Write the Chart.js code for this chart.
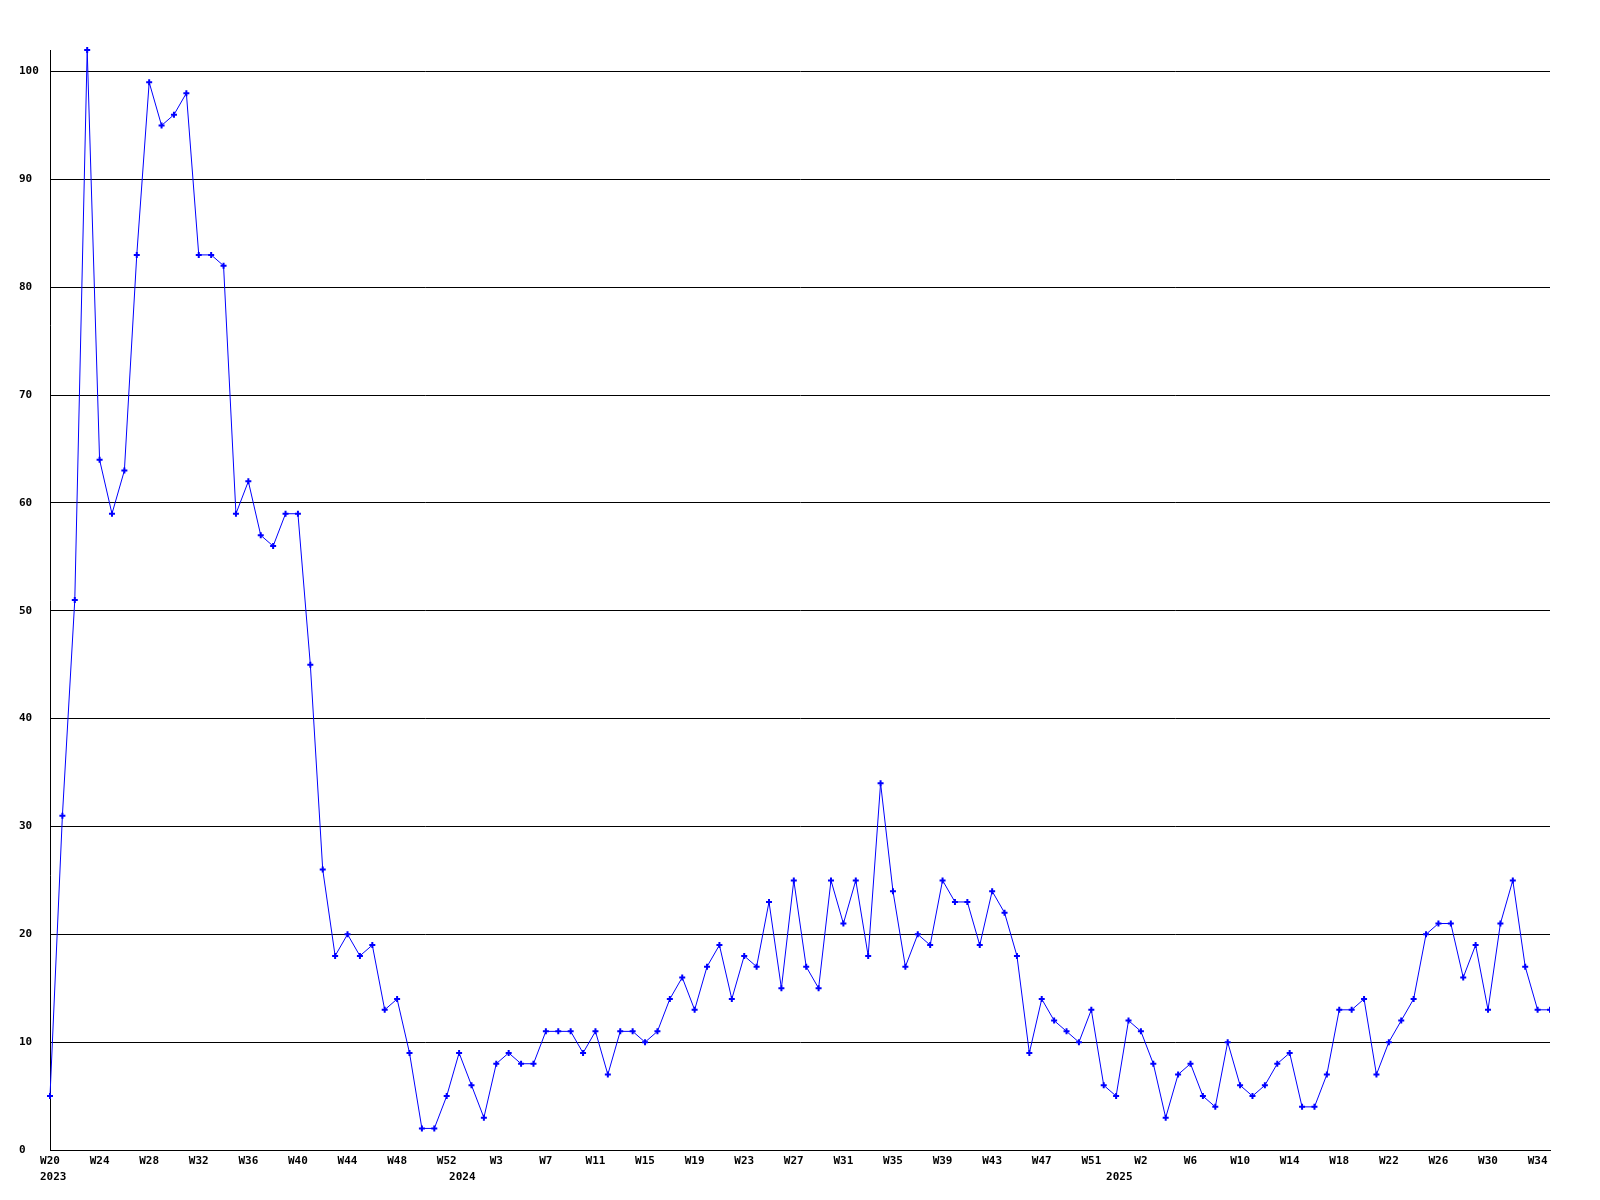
<!DOCTYPE html>
<html>
<head>
<meta charset="utf-8">
<script src="https://cdn.jsdelivr.net/npm/chart.js@4/dist/chart.umd.min.js"></script>
<style>
  html, body { margin: 0; padding: 0; background: #ffffff; }
  #chart { display: block; }
</style>
</head>
<body>
<canvas id="chart" width="1600" height="1200"></canvas>
<script>
// Uker per år (W0 = del-uke ved årsskiftet)
const weeks2023 = ['W20','W21','W22','W23','W24','W25','W26','W27','W28','W29','W30','W31','W32','W33','W34','W35','W36','W37','W38','W39','W40','W41','W42','W43','W44','W45','W46','W47','W48','W49','W50','W51','W52'];
const weeks2024 = ['W0','W1','W2','W3','W4','W5','W6','W7','W8','W9','W10','W11','W12','W13','W14','W15','W16','W17','W18','W19','W20','W21','W22','W23','W24','W25','W26','W27','W28','W29','W30','W31','W32','W33','W34','W35','W36','W37','W38','W39','W40','W41','W42','W43','W44','W45','W46','W47','W48','W49','W50','W51','W52'];
const weeks2025 = ['W0','W1','W2','W3','W4','W5','W6','W7','W8','W9','W10','W11','W12','W13','W14','W15','W16','W17','W18','W19','W20','W21','W22','W23','W24','W25','W26','W27','W28','W29','W30','W31','W32','W33','W34','W35'];

const years = ['2023', '2024', '2025'];

// Verdier per uke
const values2023 = [5, 31, 51, 102, 64, 59, 63, 83, 99, 95, 96, 98, 83, 83, 82, 59, 62, 57, 56, 59, 59, 45, 26, 18, 20, 18, 19, 13, 14, 9, 2, 2, 5];
const values2024 = [9, 6, 3, 8, 9, 8, 8, 11, 11, 11, 9, 11, 7, 11, 11, 10, 11, 14, 16, 13, 17, 19, 14, 18, 17, 23, 15, 25, 17, 15, 25, 21, 25, 18, 34, 24, 17, 20, 19, 25, 23, 23, 19, 24, 22, 18, 9, 14, 12, 11, 10, 13, 6];
const values2025 = [5, 12, 11, 8, 3, 7, 8, 5, 4, 10, 6, 5, 6, 8, 9, 4, 4, 7, 13, 13, 14, 7, 10, 12, 14, 20, 21, 21, 16, 19, 13, 21, 25, 17, 13, 13];

const yTicks = [0, 10, 20, 30, 40, 50, 60, 70, 80, 90, 100];
const Y_MAX = 102;

const labels = [...weeks2023, ...weeks2024, ...weeks2025];
const data = [...values2023, ...values2024, ...values2025];
const yearStarts = [0, weeks2023.length, weeks2023.length + weeks2024.length];

const FONT = { family: "'DejaVu Sans Mono', monospace", size: 11, weight: 'bold' };

// Årstall under første uke i hvert år
const yearLabelPlugin = {
    id: 'yearLabels',
    afterDraw(chart) {
        const ctx = chart.ctx;
        const xs = chart.scales.x;
        ctx.save();
        ctx.font = 'bold 11px "DejaVu Sans Mono", monospace';
        ctx.fillStyle = '#000000';
        ctx.textAlign = 'left';
        ctx.textBaseline = 'middle';
        years.forEach((y, i) => {
            const px = xs.getPixelForValue(yearStarts[i]);
            ctx.fillText(y, px - 10, chart.chartArea.bottom + 27);
        });
        ctx.restore();
    }
};

new Chart(document.getElementById('chart'), {
    type: 'line',
    data: {
        labels: labels,
        datasets: [{
            data: data,
            borderColor: '#0000ff',
            backgroundColor: '#0000ff',
            borderWidth: 1,
            tension: 0,
            clip: { left: false, top: false, right: 0, bottom: false },
            pointStyle: 'cross',
            pointRadius: 3,
            pointBorderWidth: 2,
            pointBorderColor: '#0000ff',
            pointBackgroundColor: '#0000ff'
        }]
    },
    options: {
        responsive: false,
        animation: false,
        devicePixelRatio: 1,
        layout: { padding: { top: 50, right: 50, left: 19, bottom: 0 } },
        plugins: {
            legend: { display: false },
            tooltip: { enabled: false }
        },
        scales: {
            x: {
                offset: false,
                grid: { display: false, drawTicks: false },
                border: { display: true, color: '#000000', width: 1 },
                ticks: {
                    autoSkip: false,
                    maxRotation: 0,
                    minRotation: 0,
                    padding: 5,
                    color: '#000000',
                    font: FONT,
                    callback: (val, idx) => idx % 4 === 0 ? labels[idx] : ''
                },
                afterFit: (scale) => { scale.height = 50; }
            },
            y: {
                min: 0,
                max: Y_MAX,
                grid: { color: '#000000', lineWidth: 1, drawTicks: false },
                border: { display: true, color: '#000000', width: 1 },
                ticks: {
                    stepSize: 10,
                    crossAlign: 'far',
                    color: '#000000',
                    font: FONT,
                    padding: 0
                },
                afterBuildTicks: (scale) => {
                    scale.ticks = yTicks.map(v => ({ value: v }));
                },
                afterFit: (scale) => { scale.width = 31; }
            }
        }
    },
    plugins: [yearLabelPlugin]
});
</script>
</body>
</html>
